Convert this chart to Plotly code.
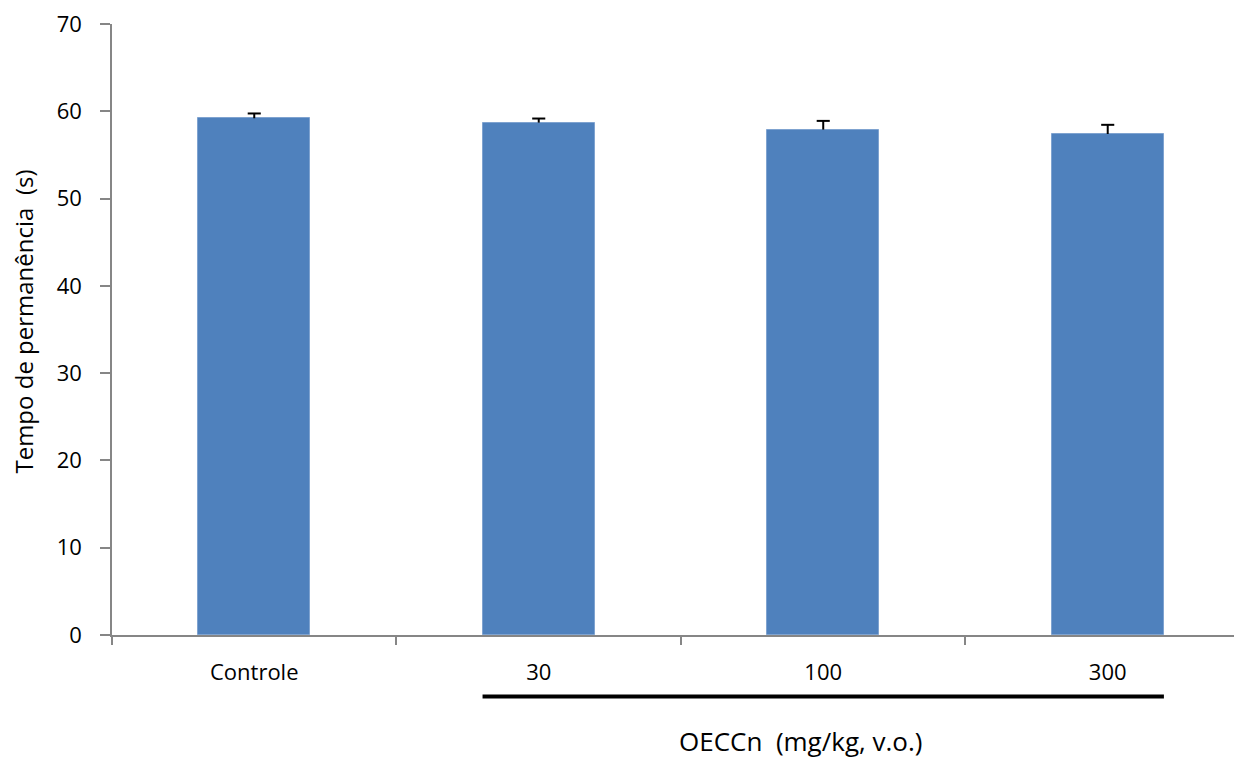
import plotly.graph_objects as go

categories = ["Controle", "30", "100", "300"]
values = [59.2, 58.7, 57.9, 57.4]
errors = [0.55, 0.47, 1.0, 1.05]
y_ticks = [0, 10, 20, 30, 40, 50, 60, 70]

bar_width = 0.395
cap_half = 0.023
FONT = "'Open Sans', sans-serif"
AXIS_GRAY = "#868686"

# page has an 8px body margin; figure coordinates are page coordinates minus 8
OFF = 8
W, H = 1234, 750
L, T = 112 - OFF, 19 - OFF
B = H - (635 - OFF)
R = 0

fig = go.Figure()
fig.add_trace(go.Bar(
    x=list(range(len(categories))),
    y=values,
    width=bar_width,
    marker=dict(color="#4F81BD", line=dict(color="#7FA3D0", width=1)),
    showlegend=False,
))

# upward-only error bars built from the data arrays
ex, ey = [], []
for i, (v, e) in enumerate(zip(values, errors)):
    ex += [i, i, None, i - cap_half, i + cap_half, None]
    ey += [v, v + e, None, v + e, v + e, None]
fig.add_trace(go.Scatter(x=ex, y=ey, mode="lines",
                         line=dict(color="black", width=2),
                         showlegend=False, hoverinfo="skip"))

fig.update_layout(
    width=W, height=H,
    margin=dict(l=L, r=R, t=T, b=B, pad=0),
    plot_bgcolor="white", paper_bgcolor="white",
    font=dict(family=FONT, color="black"),
    bargap=0,
)
fig.update_xaxes(
    range=[-0.5, 3.472],
    tickmode="array",
    tickvals=list(range(len(categories))),
    ticktext=categories,
    showline=True, linecolor=AXIS_GRAY, linewidth=1.5,
    showgrid=False, zeroline=False,
    ticks="",
    tickfont=dict(size=22, family=FONT, color="black"),
    ticklabelstandoff=17,
    ticklabeloverflow="allow",
    minor=dict(tickvals=[-0.5, 0.5, 1.5, 2.5], ticks="outside", ticklen=8,
               tickcolor=AXIS_GRAY, tickwidth=1.5, showgrid=False),
)
fig.update_yaxes(
    range=[0, 70],
    tickmode="array", tickvals=y_ticks,
    showline=True, linecolor=AXIS_GRAY, linewidth=1.5,
    showgrid=False, zeroline=False,
    ticks="outside", ticklen=10, tickcolor=AXIS_GRAY, tickwidth=1.5,
    tickfont=dict(size=22, family=FONT, color="black"),
    ticklabelstandoff=14,
    ticklabeloverflow="allow",
)

pw = W - L - R
ph = H - T - B

def py(y_page):
    return (H - B - (y_page - OFF)) / ph

def px(x_page):
    return ((x_page - OFF) - L) / pw

# y-axis title
fig.add_annotation(
    text="Tempo de permanência  (s)", textangle=-90,
    xref="paper", yref="paper", x=px(24), y=py(319),
    showarrow=False, font=dict(size=24, family=FONT, color="black"),
    xanchor="center", yanchor="middle",
)
# group underline below OECCn doses
fig.add_shape(
    type="line", xref="x", yref="paper",
    x0=1 - bar_width / 2, x1=3 + bar_width / 2,
    y0=py(697), y1=py(697),
    line=dict(color="black", width=4),
)
fig.add_annotation(
    text="OECCn  (mg/kg, v.o.)",
    xref="paper", yref="paper", x=px(800), y=py(742),
    showarrow=False, font=dict(size=26, family=FONT, color="black"),
    xanchor="center", yanchor="middle",
)

fig.write_html("out.html")
